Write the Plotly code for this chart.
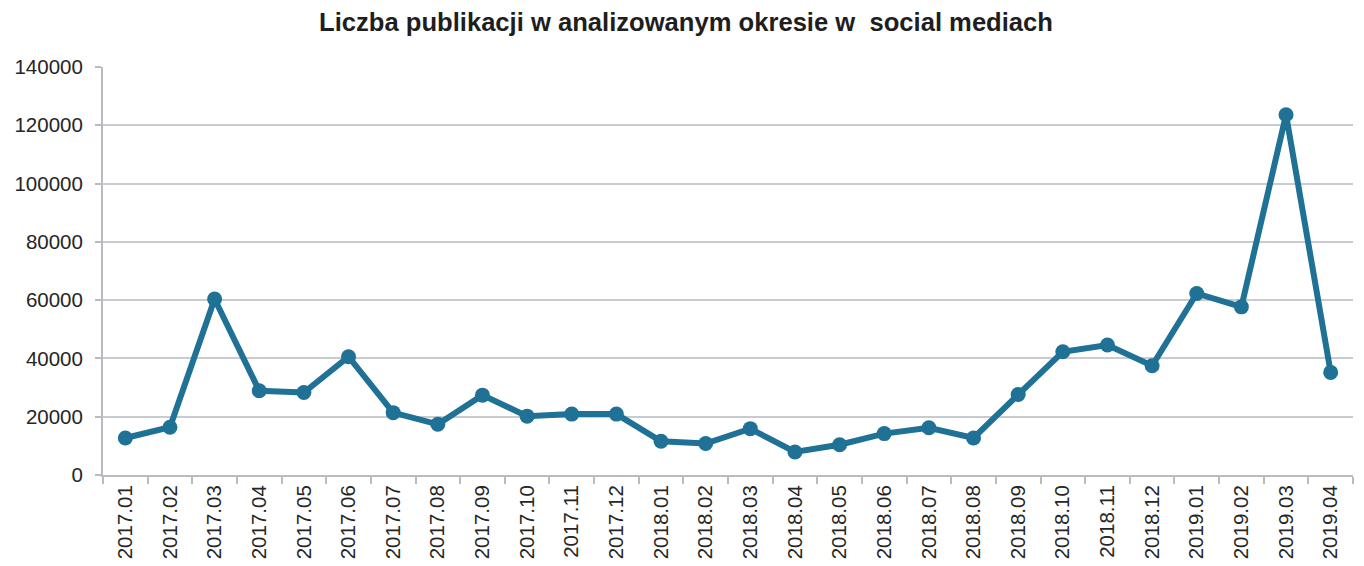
import plotly.graph_objects as go

months = ["2017.01", "2017.02", "2017.03", "2017.04", "2017.05", "2017.06", "2017.07",
          "2017.08", "2017.09", "2017.10", "2017.11", "2017.12", "2018.01", "2018.02",
          "2018.03", "2018.04", "2018.05", "2018.06", "2018.07", "2018.08", "2018.09",
          "2018.10", "2018.11", "2018.12", "2019.01", "2019.02", "2019.03", "2019.04"]
publications = [12700, 16400, 60400, 28900, 28300, 40600, 21400,
                17400, 27400, 20200, 20900, 20900, 11600, 10800,
                15900, 7900, 10400, 14200, 16200, 12700, 27600,
                42300, 44600, 37500, 62300, 57700, 123600, 35200]
y_ticks = [0, 20000, 40000, 60000, 80000, 100000, 120000, 140000]

color = "#1f7196"
fig = go.Figure()
fig.add_trace(go.Scatter(
    x=months, y=publications, mode="lines+markers",
    line=dict(color=color, width=6),
    marker=dict(color=color, size=15),
    cliponaxis=False, showlegend=False,
))

# page body has an 8px default margin; figure is sized to fit the window
fig.update_layout(
    width=1356, height=558,
    paper_bgcolor="white", plot_bgcolor="white",
    margin=dict(l=95, r=11, t=59, b=91),
    font=dict(family="Liberation Sans, Arial, sans-serif", size=20, color="#262626"),
    title=dict(text="<b>Liczba publikacji w analizowanym okresie w\u00a0 social mediach</b>",
               x=0.5, xanchor="center", xref="container", yref="container",
               y=0.975, yanchor="middle",
               font=dict(size=25.6, color="#1e1e1e")),
)
fig.update_xaxes(
    type="category", range=[-0.5, len(months) - 0.5], automargin=False,
    tickangle=-90, tickson="boundaries",
    showgrid=False, showline=True, linecolor="#b8bcc0", linewidth=2,
    ticks="outside", ticklen=7, tickcolor="#b8bcc0", tickwidth=2,
    tickfont=dict(size=20.5, color="#262626"),
)
fig.update_yaxes(
    range=[0, 140000], tickvals=y_ticks, ticktext=[str(v) for v in y_ticks],
    automargin=False,
    showgrid=True, gridcolor="#c8ccd0", gridwidth=2,
    showline=True, linecolor="#b8bcc0", linewidth=2,
    ticks="outside", ticklen=6, tickcolor="#b8bcc0", tickwidth=2,
    ticklabelstandoff=8, zeroline=False,
    tickfont=dict(size=20.5, color="#262626"),
)

fig.write_html("out.html")
